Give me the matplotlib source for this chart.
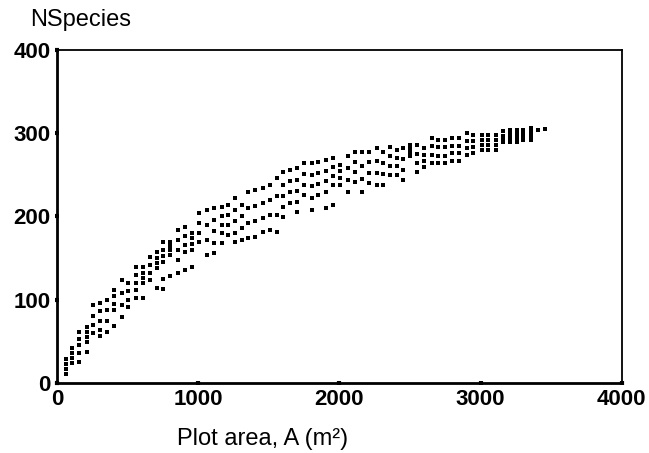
import matplotlib.pyplot as plt

plt.rcParams['font.family'] = ['Liberation Sans', 'DejaVu Sans']

# column positions (plot area, m2) and four readings per column, top to bottom
area = [64, 106, 156, 212, 255, 304, 354, 404, 460, 503, 559, 609, 658, 708,
        750, 800, 857, 906, 956, 1005, 1062, 1111, 1168, 1211, 1260, 1310,
        1352, 1402, 1458, 1508, 1558, 1600, 1650, 1699, 1749, 1805, 1848,
        1904, 1954, 2004, 2060, 2110, 2159, 2209, 2265, 2308, 2358, 2407,
        2450, 2499, 2549, 2598, 2655, 2697, 2747, 2796, 2846, 2903, 2945,
        3009, 3051, 3108, 3158, 3207, 3257, 3299, 3356]

sp_a = [28, 42, 61, 67, 94, 96, 100, 112, 124, 120, 139, 139, 151, 157, 169,
        169, 184, 187, 180, 204, 208, 210, 211, 214, 222, 214, 229, 232, 234,
        238, 246, 253, 256, 258, 264, 264, 265, 268, 270, 262, 272, 277, 277,
        277, 282, 277, 283, 280, 282, 286, 286, 282, 294, 292, 292, 294, 294,
        300, 298, 298, 298, 298, 302, 304, 304, 304, 306]
sp_b = [22, 36, 53, 61, 80, 86, 88, 104, 108, 110, 130, 132, 142, 150, 160,
        164, 172, 176, 174, 192, 190, 196, 200, 202, 208, 200, 210, 212, 216,
        220, 224, 238, 242, 244, 251, 250, 252, 255, 259, 254, 258, 265, 261,
        265, 267, 264, 272, 270, 269, 281, 275, 274, 284, 283, 283, 285, 285,
        291, 291, 292, 292, 292, 297, 299, 299, 300, 301]
sp_c = [16, 30, 45, 55, 70, 74, 74, 95, 94, 100, 120, 126, 132, 144, 152,
        159, 160, 166, 167, 180, 172, 182, 190, 190, 194, 186, 192, 194, 198,
        202, 202, 224, 229, 230, 238, 236, 239, 242, 248, 246, 244, 253, 245,
        252, 252, 251, 261, 260, 256, 277, 264, 266, 274, 273, 273, 276, 276,
        282, 283, 286, 286, 286, 293, 294, 294, 296, 297]
sp_d = [10, 24, 36, 49, 60, 64, 61, 88, 79, 91, 112, 120, 124, 138, 145,
        154, 148, 157, 160, 169, 154, 168, 180, 178, 180, 172, 174, 175, 181,
        184, 181, 211, 216, 217, 226, 222, 226, 229, 238, 238, 229, 241, 229,
        240, 238, 238, 250, 250, 244, 272, 253, 259, 264, 264, 264, 266, 266,
        274, 276, 280, 280, 280, 289, 289, 289, 292, 292]

# stray points below the main band and the last few columns
area_low = [156, 212, 304, 404, 559, 609, 708, 750, 750, 800, 857, 906, 956,
            1111, 1168, 1260, 1600, 1699, 1805, 1904, 1954, 3405, 3455]
sp_low = [25, 37, 56, 68, 102, 102, 114, 125, 113, 128, 132, 136, 139,
          156, 168, 169, 199, 205, 207, 210, 214, 304, 305]

fig = plt.figure(figsize=(6.49, 4.53), dpi=100)
ax = fig.add_axes([0.088, 0.155, 0.870, 0.735])

for ys in (sp_a, sp_b, sp_c, sp_d):
    ax.scatter(area, ys, marker='s', s=11, color='black', linewidths=0)
ax.scatter(area_low, sp_low, marker='s', s=11, color='black', linewidths=0)

ax.set_xlim(0, 4000)
ax.set_ylim(0, 400)
ax.set_xticks([0, 1000, 2000, 3000, 4000])
ax.set_yticks([0, 100, 200, 300, 400])
ax.tick_params(direction='inout', length=3, width=3, labelsize=16, pad=3)
for lab in ax.get_xticklabels() + ax.get_yticklabels():
    lab.set_fontweight('bold')
for side in ('left', 'bottom'):
    ax.spines[side].set_linewidth(2)
for side in ('top', 'right'):
    ax.spines[side].set_linewidth(1.3)

fig.text(0.046, 0.955, 'NSpecies', fontsize=17, va='center', ha='left')
fig.text(0.405, 0.031, 'Plot area, A (m²)', fontsize=17, va='center', ha='center')

fig.savefig('out.png', dpi=100)
